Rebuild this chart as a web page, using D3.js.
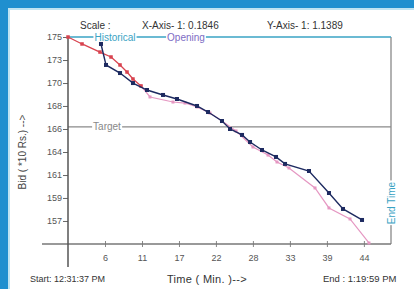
<!DOCTYPE html>
<html>
<head>
<meta charset="utf-8">
<script src="https://cdn.jsdelivr.net/npm/d3@7"></script>
<style>
  body { margin: 0; padding: 0; background: #fff; }
  text { font-family: "Liberation Sans", Arial, sans-serif; }
</style>
</head>
<body>
<div id="chart"></div>
<script>
// size of the picture
var w = 414;
var h = 289;

// bid series (time in minutes, bid in *10 Rs.)
var navyTime = [4.94, 5.69, 7.79, 9.73, 11.83, 14.23, 16.32, 19.32, 20.97, 23.06, 24.26, 26.06, 27.26, 29.05, 31.15, 32.5, 36.09, 39.08, 41.18, 44.03];
var navyBid  = [174.31, 172.23, 171.43, 170.44, 169.75, 169.26, 168.86, 168.17, 167.57, 166.68, 165.89, 165.3, 164.6, 163.81, 163.12, 162.43, 161.73, 159.55, 157.97, 156.88];

var redTime = [0, 2.1, 4.79, 6.44, 7.79, 8.84, 9.73, 10.93];
var redBid  = [175, 174.31, 173.51, 173.02, 172.23, 171.53, 170.84, 170.15];

var pinkTime = [10.93, 12.28, 15.72, 17.52, 19.32, 21.26, 23.06, 25.16, 27.7, 29.95, 31.3, 33.09, 36.99, 39.08, 42.23, 45.07];
var pinkBid  = [170.15, 169.06, 168.56, 168.46, 168.07, 167.47, 166.68, 165.69, 164.11, 163.31, 162.62, 162.03, 160.05, 158.07, 156.98, 154.6];

// axis ticks
var yTickValues = [175, 172.72, 170.44, 168.17, 165.89, 163.61, 161.33, 159.06, 156.78];
var yTickLabels = ["175", "173", "170", "168", "166", "164", "161", "159", "157"];
var xTickValues = [5.54, 11.08, 16.62, 22.15, 27.69, 33.23, 38.77, 44.31];
var xTickLabels = ["6", "11", "17", "22", "28", "33", "39", "44"];

var openingBid = 175;
var targetBid = 166.1;
var endMinutes = 48.37;

var svg = d3.select("#chart")
            .append("svg")
            .attr("width", w)
            .attr("height", h);

// frame
svg.append("rect").attr("width", w).attr("height", h).attr("fill", "#1f8fcf");
svg.append("rect").attr("x", 8).attr("y", 8).attr("width", w - 8).attr("height", h - 8).attr("fill", "#bfe3f2");
svg.append("rect").attr("x", 10).attr("y", 10).attr("width", w - 10).attr("height", h - 10).attr("fill", "#fff");

// scales
var xScale = d3.scaleLinear()
               .domain([0, endMinutes])
               .range([68, 391]);

var yScale = d3.scaleLinear()
               .domain([154.5, 175])
               .range([244, 37]);

// header
svg.append("text").attr("x", 80).attr("y", 29).attr("font-size", "10px").attr("fill", "#333").text("Scale :");
svg.append("text").attr("x", 142).attr("y", 29).attr("font-size", "10px").attr("fill", "#333").text("X-Axis- 1: 0.1846");
svg.append("text").attr("x", 267).attr("y", 29).attr("font-size", "10px").attr("fill", "#333").text("Y-Axis- 1: 1.1389");

// right border
svg.append("line")
   .attr("x1", 391).attr("x2", 391)
   .attr("y1", yScale(openingBid)).attr("y2", 244)
   .attr("stroke", "#999").attr("stroke-width", 1.5);

// target line
svg.append("line")
   .attr("x1", 68).attr("x2", 391)
   .attr("y1", yScale(targetBid)).attr("y2", yScale(targetBid))
   .attr("stroke", "#8a8a8a").attr("stroke-width", 1.2);

// opening / historical line
svg.append("line")
   .attr("x1", 68).attr("x2", 391)
   .attr("y1", yScale(openingBid)).attr("y2", yScale(openingBid))
   .attr("stroke", "#3aa3c4").attr("stroke-width", 1.5);

// labels sitting on the lines
function lineLabel(x, y, str, color, rotate) {
  var g = svg.append("g").attr("transform", "translate(" + x + "," + y + ")" + (rotate ? " rotate(-90)" : ""));
  var t = g.append("text")
           .attr("text-anchor", "middle")
           .attr("dy", "0.35em")
           .attr("font-size", "10px")
           .attr("fill", color)
           .text(str);
  var bb = t.node().getBBox();
  g.insert("rect", "text")
   .attr("x", bb.x - 1).attr("y", bb.y + 1)
   .attr("width", bb.width + 2).attr("height", bb.height - 2)
   .attr("fill", "#fff");
}
lineLabel(115, yScale(openingBid), "Historical", "#3aa3c4");
lineLabel(186, yScale(openingBid), "Opening", "#7d6cc4");
lineLabel(107, yScale(targetBid), "Target", "#888");
lineLabel(391, 203, "End Time", "#3aa3c4", true);

// axes
var yAxis = d3.axisLeft(yScale)
              .tickValues(yTickValues)
              .tickFormat(function(d, i) { return yTickLabels[i]; })
              .tickSize(5)
              .tickPadding(1);

var xAxis = d3.axisBottom(xScale)
              .tickValues(xTickValues)
              .tickFormat(function(d, i) { return xTickLabels[i]; })
              .tickSize(3)
              .tickPadding(8);

var gy = svg.append("g")
   .attr("transform", "translate(68,0)")
   .call(yAxis);
gy.select(".domain").remove();
gy.selectAll("line").attr("stroke", "#666");
gy.selectAll("text").attr("font-size", "9px").attr("fill", "#555").attr("font-family", "Liberation Sans, Arial, sans-serif");

var gx = svg.append("g")
   .attr("transform", "translate(0,244)")
   .call(xAxis);
gx.select(".domain").remove();
gx.selectAll(".tick line").attr("y1", -3).attr("stroke", "#888");
gx.selectAll("text").attr("font-size", "9px").attr("fill", "#555").attr("font-family", "Liberation Sans, Arial, sans-serif");

svg.append("line").attr("x1", 42).attr("x2", 391).attr("y1", 244).attr("y2", 244)
   .attr("stroke", "#777").attr("stroke-width", 1.5);
svg.append("line").attr("x1", 68).attr("x2", 68).attr("y1", 37).attr("y2", 267)
   .attr("stroke", "#555").attr("stroke-width", 1.5);

// series
function drawSeries(times, bids, color, width, size) {
  var pts = times.map(function(t, i) { return [t, bids[i]]; });
  var line = d3.line()
               .x(function(d) { return xScale(d[0]); })
               .y(function(d) { return yScale(d[1]); });
  svg.append("path")
     .datum(pts)
     .attr("d", line)
     .attr("fill", "none")
     .attr("stroke", color)
     .attr("stroke-width", width);
  svg.selectAll(null)
     .data(pts)
     .enter()
     .append("rect")
     .attr("x", function(d) { return xScale(d[0]) - size / 2; })
     .attr("y", function(d) { return yScale(d[1]) - size / 2; })
     .attr("width", size)
     .attr("height", size)
     .attr("fill", color);
}
drawSeries(pinkTime, pinkBid, "#e597c2", 1.2, 3);
drawSeries(redTime, redBid, "#d8434f", 1.3, 3.5);
drawSeries(navyTime, navyBid, "#1d2a60", 1.4, 4);

// axis titles
svg.append("text")
   .attr("transform", "translate(26,152) rotate(-90)")
   .attr("text-anchor", "middle")
   .attr("font-size", "10px")
   .attr("fill", "#444")
   .text("Bid ( *10 Rs.) -->");

svg.append("text").attr("x", 30).attr("y", 282).attr("font-size", "9px").attr("fill", "#333").text("Start: 12:31:37 PM");
svg.append("text").attr("x", 167).attr("y", 283).attr("font-size", "11px").attr("letter-spacing", "0.3px").attr("fill", "#333").text("Time ( Min. )-->");
svg.append("text").attr("x", 323).attr("y", 282).attr("font-size", "9.5px").attr("fill", "#333").text("End : 1:19:59 PM");
</script>
</body>
</html>
